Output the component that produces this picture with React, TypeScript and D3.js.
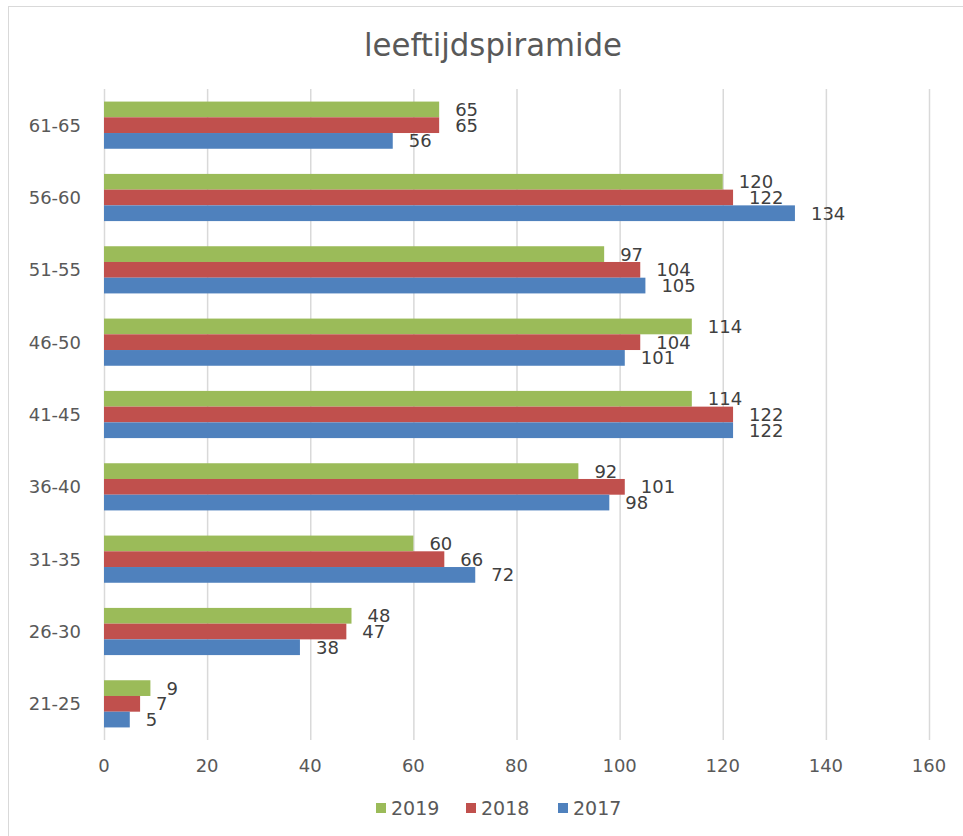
import React, { useEffect, useRef } from 'react';
import * as d3 from 'd3';

const categories = ['61-65', '56-60', '51-55', '46-50', '41-45', '36-40', '31-35', '26-30', '21-25'];
const seriesNames = ['2019', '2018', '2017'];
const values2019 = [65, 120, 97, 114, 114, 92, 60, 48, 9];
const values2018 = [65, 122, 104, 104, 122, 101, 66, 47, 7];
const values2017 = [56, 134, 105, 101, 122, 98, 72, 38, 5];
const xTicks = [0, 20, 40, 60, 80, 100, 120, 140, 160];
const colors = ['#9bbb59', '#c0504d', '#4f81bd'];

const W = 963;
const H = 836;

export default function App() {
  const svgRef = useRef<SVGSVGElement>(null);

  useEffect(() => {
    if (!svgRef.current) return;
    const svg = d3.select(svgRef.current);
    svg.selectAll('*').remove();

    const font = '"DejaVu Sans", "Open Sans", sans-serif';
    const textColor = '#595959';

    // chart frame
    svg.append('rect')
      .attr('x', 8.5).attr('y', 6.5)
      .attr('width', W + 10).attr('height', H + 10)
      .attr('fill', '#fff')
      .attr('stroke', '#d9d9d9');

    svg.append('text')
      .attr('x', 493).attr('y', 56)
      .attr('text-anchor', 'middle')
      .attr('font-family', '"DejaVu Sans Condensed", "Liberation Sans Narrow", sans-serif')
      .attr('font-size', 32)
      .attr('textLength', 258)
      .attr('lengthAdjust', 'spacingAndGlyphs')
      .attr('fill', textColor)
      .text('leeftijdspiramide');

    const x = d3.scaleLinear().domain([0, 160]).range([104, 929]);
    const y = d3.scaleBand().domain(categories).range([89, 740]);
    const inner = d3.scaleBand().domain(seriesNames)
      .range([0, y.bandwidth()]).paddingOuter(0.8).paddingInner(0);

    // grid
    svg.append('g').selectAll('line')
      .data(xTicks)
      .join('line')
      .attr('x1', d => x(d) + 0.5).attr('x2', d => x(d) + 0.5)
      .attr('y1', 89).attr('y2', 740)
      .attr('stroke', '#d9d9d9').attr('stroke-width', 1.5);

    // tick labels
    svg.append('g').selectAll('text')
      .data(xTicks)
      .join('text')
      .attr('x', d => x(d))
      .attr('y', 772)
      .attr('text-anchor', 'middle')
      .attr('font-family', font).attr('font-size', 18)
      .attr('fill', textColor)
      .text(d => d);

    svg.append('g').selectAll('text')
      .data(categories)
      .join('text')
      .attr('x', 81)
      .attr('y', d => (y(d) as number) + y.bandwidth() / 2 + 6.5)
      .attr('text-anchor', 'end')
      .attr('font-family', font).attr('font-size', 18)
      .attr('fill', textColor)
      .text(d => d);

    const series = [values2019, values2018, values2017];
    series.forEach((vals, si) => {
      const name = seriesNames[si];
      const g = svg.append('g');
      g.selectAll('rect')
        .data(vals)
        .join('rect')
        .attr('x', x(0))
        .attr('y', (_, i) => (y(categories[i]) as number) + (inner(name) as number))
        .attr('width', d => x(d) - x(0))
        .attr('height', inner.bandwidth())
        .attr('fill', colors[si]);
      g.selectAll('text')
        .data(vals)
        .join('text')
        .attr('x', d => x(d) + 16)
        .attr('y', (_, i) => (y(categories[i]) as number) + (inner(name) as number) + inner.bandwidth() / 2 + 6.5)
        .attr('font-family', font).attr('font-size', 18)
        .attr('fill', '#404040')
        .text(d => d);
    });

    // legend
    const legendX = [376, 466, 558];
    seriesNames.forEach((name, i) => {
      svg.append('rect')
        .attr('x', legendX[i]).attr('y', 803)
        .attr('width', 10).attr('height', 10)
        .attr('fill', colors[i]);
      svg.append('text')
        .attr('x', legendX[i] + 15).attr('y', 815)
        .attr('font-family', font).attr('font-size', 19)
        .attr('fill', textColor)
        .text(name);
    });
  }, []);

  return (
    <svg
      ref={svgRef}
      width={W}
      height={H}
      style={{ position: 'absolute', left: 0, top: 0, background: '#fff' }}
    />
  );
}
